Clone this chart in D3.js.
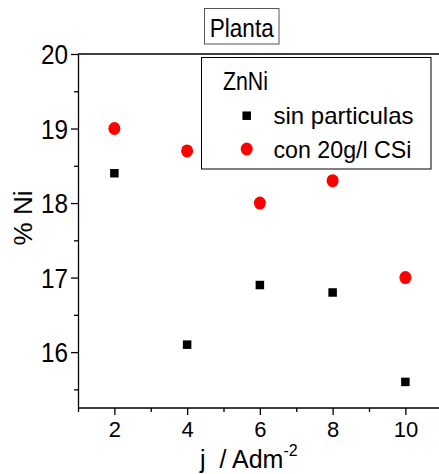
<!DOCTYPE html>
<html>
<head>
<meta charset="utf-8">
<script src="https://cdn.jsdelivr.net/npm/d3@7"></script>
<style>
  body { margin: 0; background: #fff; }
  text { font-family: "Liberation Sans", Arial, sans-serif; fill: #000; }
</style>
</head>
<body>
<div id="chart"></div>
<script>
// Data
const current = [2, 4, 6, 8, 10];                      // j / Adm^-2
const sinParticulas = [18.4, 16.1, 16.9, 16.8, 15.6];  // % Ni, black squares
const conCSi = [19.0, 18.7, 18.0, 18.3, 17.0];         // % Ni, red circles
const xTicks = [2, 4, 6, 8, 10];
const yTicks = [16, 17, 18, 19, 20];
const seriesNames = ["sin particulas", "con 20g/l CSi"];

const width = 439, height = 474;

const svg = d3.select("#chart")
    .append("svg")
    .attr("width", width)
    .attr("height", height);

const x = d3.scaleLinear().domain([1, 11]).range([78, 441.75]);
const y = d3.scaleLinear().domain([15.25, 20]).range([408, 54]);

// top frame line
svg.append("line")
    .attr("x1", x(1)).attr("x2", width)
    .attr("y1", y(20)).attr("y2", y(20))
    .attr("stroke", "#000").attr("stroke-width", 1.3);

// x axis: major + minor ticks
const xAxis = svg.append("g")
    .attr("transform", `translate(0,${y(15.25)})`)
    .call(d3.axisBottom(x).tickValues(xTicks).tickFormat(d3.format("d")).tickSize(7).tickPadding(6).tickSizeOuter(0));
svg.append("g")
    .attr("transform", `translate(0,${y(15.25)})`)
    .call(d3.axisBottom(x).tickValues([1, 3, 5, 7, 9, 11]).tickSize(4).tickFormat("").tickSizeOuter(0))
    .select(".domain").remove();
xAxis.selectAll("text").style("font-size", "22px");
xAxis.select(".domain").attr("d", `M${x(1)},0H${width}`);

// y axis
const yAxis = svg.append("g")
    .attr("transform", `translate(${x(1)},0)`)
    .call(d3.axisLeft(y).tickValues(yTicks).tickFormat(d3.format("d")).tickSize(7).tickPadding(3).tickSizeOuter(0));
svg.append("g")
    .attr("transform", `translate(${x(1)},0)`)
    .call(d3.axisLeft(y).tickValues([15.5, 16.5, 17.5, 18.5, 19.5]).tickSize(4).tickFormat("").tickSizeOuter(0))
    .select(".domain").remove();
yAxis.selectAll("text")
    .style("font-size", "27px")
    .attr("dy", "0.36em")
    .attr("transform", function() {
        const tx = +d3.select(this).attr("x");
        return `translate(${tx},0) scale(0.9,1) translate(${-tx},0)`;
    });

svg.selectAll(".domain, .tick line").attr("stroke", "#000").attr("stroke-width", 1.3);

// data points
const sq = 8.5;
svg.append("g").selectAll("rect")
    .data(current)
    .join("rect")
    .attr("x", (d) => x(d) - sq / 2)
    .attr("y", (d, i) => y(sinParticulas[i]) - sq / 2)
    .attr("width", sq).attr("height", sq)
    .attr("fill", "#000");

svg.append("g").selectAll("ellipse")
    .data(current)
    .join("ellipse")
    .attr("cx", (d) => x(d))
    .attr("cy", (d, i) => y(conCSi[i]))
    .attr("rx", 6).attr("ry", 6.5)
    .attr("fill", "#ff0000");

// axis titles
svg.append("text")
    .attr("transform", "translate(31.5,218) rotate(-90)")
    .attr("text-anchor", "middle")
    .style("font-size", "26px")
    .text("% Ni");

const xl = svg.append("text")
    .attr("x", 200)
    .attr("y", 468)
    .style("font-size", "25px")
    .style("white-space", "pre");
xl.append("tspan").text("j  / Adm");
xl.append("tspan").attr("dy", -12).style("font-size", "16px").text("-2");

// title box
svg.append("rect")
    .attr("x", 204.5).attr("y", 8.5).attr("width", 74.5).attr("height", 35.5)
    .attr("fill", "none").attr("stroke", "#555").attr("stroke-width", 1);
svg.append("text")
    .attr("x", 241.75).attr("y", 36.5)
    .attr("text-anchor", "middle")
    .attr("textLength", 64).attr("lengthAdjust", "spacingAndGlyphs")
    .style("font-size", "25px")
    .text("Planta");

// legend
const lg = svg.append("g");
lg.append("rect")
    .attr("x", 201.5).attr("y", 57.5).attr("width", 229.5).attr("height", 111.5)
    .attr("fill", "#fff").attr("stroke", "#000").attr("stroke-width", 1);
lg.append("text")
    .attr("x", 223).attr("y", 90)
    .attr("textLength", 45).attr("lengthAdjust", "spacingAndGlyphs")
    .style("font-size", "26px")
    .text("ZnNi");
lg.append("rect")
    .attr("x", 246.7 - sq / 2).attr("y", 115.7 - sq / 2)
    .attr("width", sq).attr("height", sq).attr("fill", "#000");
lg.append("ellipse")
    .attr("cx", 246.7).attr("cy", 149).attr("rx", 6).attr("ry", 6.5)
    .attr("fill", "#ff0000");
lg.selectAll("text.item")
    .data(seriesNames)
    .join("text")
    .attr("class", "item")
    .attr("x", 273.5)
    .attr("y", (d, i) => 124 + i * 33.5)
    .attr("textLength", (d, i) => i === 0 ? 140 : 138)
    .attr("lengthAdjust", "spacingAndGlyphs")
    .style("font-size", "24px")
    .text((d) => d);
</script>
</body>
</html>
